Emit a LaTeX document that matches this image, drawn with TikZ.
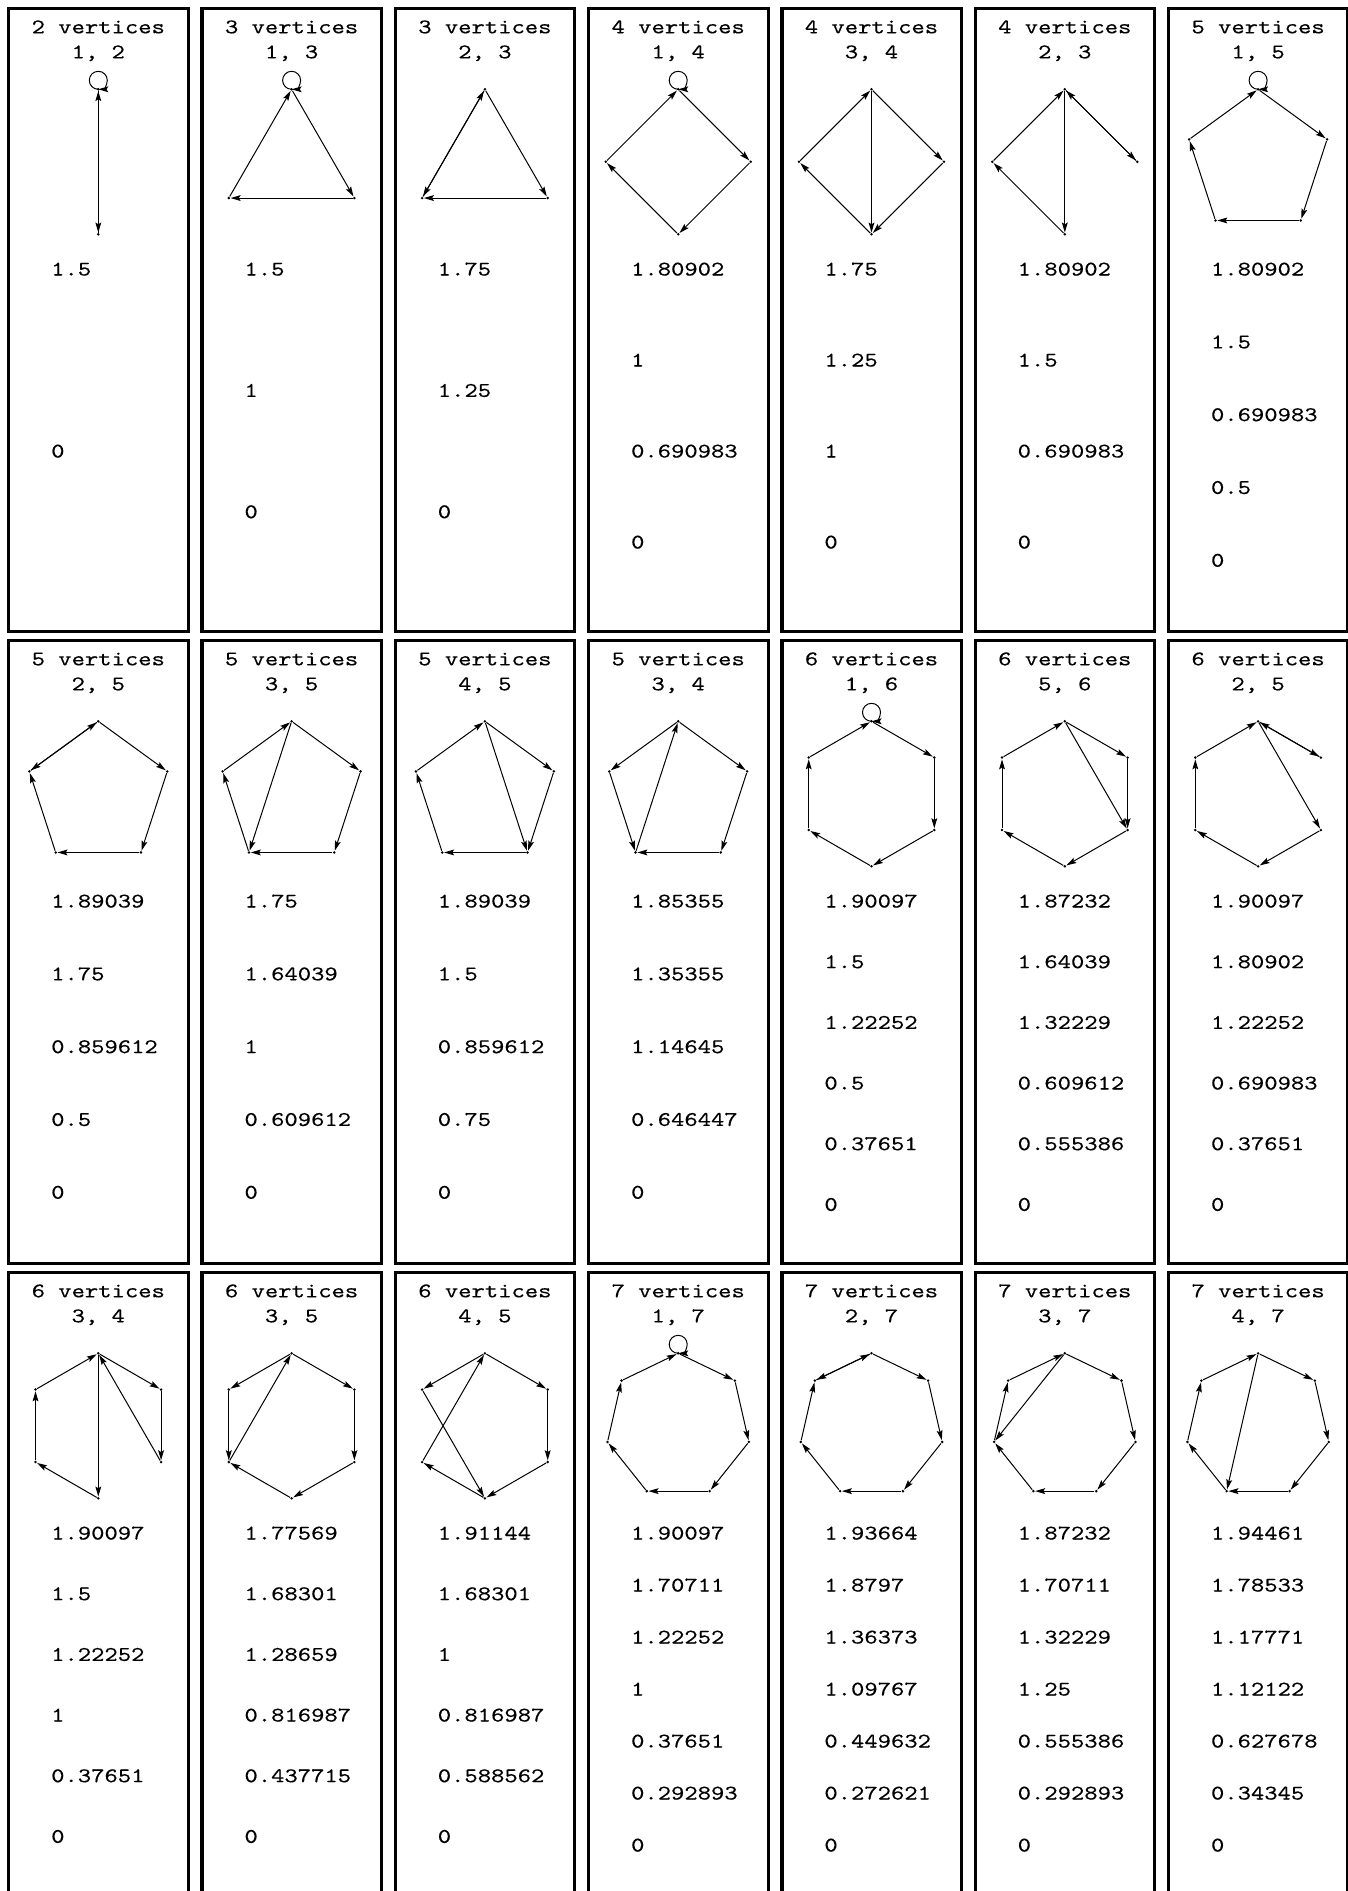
\documentclass[tikz,border=0pt]{standalone}
\usepackage{fontspec}
\newfontfamily\ttwide{lmmono10-regular}[Extension=.otf,FakeStretch=1.22,FakeBold=0.3]
\usepackage{tikz}
\usetikzlibrary{arrows.meta}

\begin{document}
\begin{tikzpicture}[x=0.5pt, y=-0.5pt,
  panelbox/.style={line width=1.6pt},
  vdot/.style={circle, fill, inner sep=0pt, minimum size=1.4pt},
  link/.style={line width=0.5pt, -{Stealth[length=5pt,width=2.9pt,inset=0.9pt]}},
  lbl/.style={font=\ttwide\fontsize{10.4}{12}\selectfont, inner sep=0pt}]
\useasboundingbox (0,0) rectangle (1348,1891);
\clip (0,0) rectangle (1348,1891);
% one panel per graph: column/row/vertices/cycle lengths/edges/values/number of values
\foreach \col/\row/\nv/\pair/\edges/\vals/\nvals [count=\idx] in {
  0/0/2/{1, 2}/{0/0,0/1,1/0}/{1.5,0}/2,
  1/0/3/{1, 3}/{0/0,0/1,1/2,2/0}/{1.5,1,0}/3,
  2/0/3/{2, 3}/{0/1,1/2,2/0,0/2}/{1.75,1.25,0}/3,
  3/0/4/{1, 4}/{0/0,0/1,1/2,2/3,3/0}/{1.80902,1,0.690983,0}/4,
  4/0/4/{3, 4}/{0/1,1/2,2/3,3/0,0/2}/{1.75,1.25,1,0}/4,
  5/0/4/{2, 3}/{0/1,1/0,0/2,2/3,3/0}/{1.80902,1.5,0.690983,0}/4,
  6/0/5/{1, 5}/{0/0,0/1,1/2,2/3,3/4,4/0}/{1.80902,1.5,0.690983,0.5,0}/5,
  0/1/5/{2, 5}/{0/1,1/2,2/3,3/4,4/0,0/4}/{1.89039,1.75,0.859612,0.5,0}/5,
  1/1/5/{3, 5}/{0/1,1/2,2/3,3/4,4/0,0/3}/{1.75,1.64039,1,0.609612,0}/5,
  2/1/5/{4, 5}/{0/1,1/2,2/3,3/4,4/0,0/2}/{1.89039,1.5,0.859612,0.75,0}/5,
  3/1/5/{3, 4}/{0/1,1/2,2/3,3/0,0/4,4/3}/{1.85355,1.35355,1.14645,0.646447,0}/5,
  4/1/6/{1, 6}/{0/0,0/1,1/2,2/3,3/4,4/5,5/0}/{1.90097,1.5,1.22252,0.5,0.37651,0}/6,
  5/1/6/{5, 6}/{0/1,1/2,2/3,3/4,4/5,5/0,0/2}/{1.87232,1.64039,1.32229,0.609612,0.555386,0}/6,
  6/1/6/{2, 5}/{0/1,1/0,0/2,2/3,3/4,4/5,5/0}/{1.90097,1.80902,1.22252,0.690983,0.37651,0}/6,
  0/2/6/{3, 4}/{0/1,1/2,2/0,0/3,3/4,4/5,5/0}/{1.90097,1.5,1.22252,1,0.37651,0}/6,
  1/2/6/{3, 5}/{0/5,5/4,4/0,0/1,1/2,2/3,3/4}/{1.77569,1.68301,1.28659,0.816987,0.437715,0}/6,
  2/2/6/{4, 5}/{0/5,5/3,4/0,0/1,1/2,2/3,3/4}/{1.91144,1.68301,1,0.816987,0.588562,0}/6,
  3/2/7/{1, 7}/{0/0,0/1,1/2,2/3,3/4,4/5,5/6,6/0}/{1.90097,1.70711,1.22252,1,0.37651,0.292893,0}/7,
  4/2/7/{2, 7}/{0/1,1/2,2/3,3/4,4/5,5/6,6/0,0/6}/{1.93664,1.8797,1.36373,1.09767,0.449632,0.272621,0}/7,
  5/2/7/{3, 7}/{0/1,1/2,2/3,3/4,4/5,5/6,6/0,0/5}/{1.87232,1.70711,1.32229,1.25,0.555386,0.292893,0}/7,
  6/2/7/{4, 7}/{0/1,1/2,2/3,3/4,4/5,5/6,6/0,0/4}/{1.94461,1.78533,1.17771,1.12122,0.627678,0.34345,0}/7}{
  \begin{scope}[shift={(193.3*\col,632*\row)}]
    \draw[panelbox] (8.7,8.4) rectangle (188.2,631.3);
    \node[lbl, anchor=base] (p\idx-title) at (98.3,33.3) {\nv{} vertices};
    \node[lbl, anchor=base] (p\idx-pair) at (98.3,58.3) {\pair};
    % vertices clockwise from the top
    \pgfmathtruncatemacro\last{\nv-1}
    \foreach \k in {0,...,\last}
      \node[vdot] (p\idx-\k) at ({98.3+72.5*sin(360*\k/\nv)},{161.8-72.5*cos(360*\k/\nv)}) {};
    % edges, a loop when source = target
    \foreach \s/\t in \edges {
      \ifnum\s=\t
        \draw[link] (p\idx-\s.center) arc[start angle=270, end angle=-90, radius=4.5pt];
      \else
        \draw[link] (p\idx-\s) -- (p\idx-\t);
      \fi
    }
    % values
    \foreach \v [count=\j from 0] in \vals
      \node[lbl, anchor=base west] (p\idx-val\j) at (50.8,{275.5+\j*364/\nvals}) {\v};
  \end{scope}
}
\end{tikzpicture}
\end{document}
